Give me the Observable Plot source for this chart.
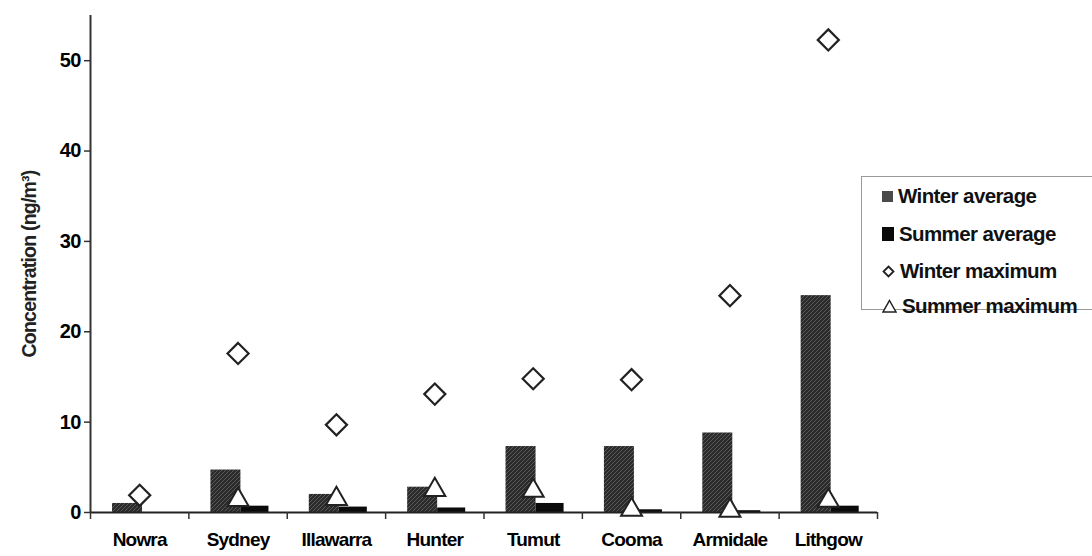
<!DOCTYPE html>
<html>
<head>
<meta charset="utf-8">
<script src="https://cdn.jsdelivr.net/npm/d3@7"></script>
<script src="https://cdn.jsdelivr.net/npm/@observablehq/plot@0.6"></script>
<style>
  body { margin: 0; background: #fff; }
  #wrap { position: relative; width: 1092px; height: 556px; font-family: "Liberation Sans", Arial, sans-serif; }
  #legend { position: absolute; left: 861px; top: 176px; width: 240px; height: 134px; border: 1.5px solid #999; border-right: none; box-sizing: border-box; background: #fff; }
  .item { position: absolute; left: 20px; font-size: 20.5px; font-weight: bold; letter-spacing: -0.6px; color: #111; line-height: 22px; display: flex; align-items: center; }
  .item svg { margin-right: 5px; }
</style>
</head>
<body>
<div id="wrap"></div>
<script>
const sites = ["Nowra", "Sydney", "Illawarra", "Hunter", "Tumut", "Cooma", "Armidale", "Lithgow"];
const winterAverage = [1.0, 4.7, 2.0, 2.8, 7.3, 7.3, 8.8, 24.0];
const summerAverage = [null, 0.7, 0.6, 0.5, 1.0, 0.3, 0.2, 0.7];
const winterMaximum = [1.9, 17.6, 9.7, 13.1, 14.8, 14.7, 24.0, 52.3];
const summerMaximum = [null, 1.4, 1.5, 2.5, 2.4, 0.3, 0.2, 1.3];
const yTicks = [0, 10, 20, 30, 40, 50];
const seriesNames = ["Winter average", "Summer average", "Winter maximum", "Summer maximum"];

const rows = sites.map((s, i) => ({
  site: s, i,
  wa: winterAverage[i], sa: summerAverage[i],
  wm: winterMaximum[i], sm: summerMaximum[i]
}));

const font = "Liberation Sans, Arial, sans-serif";

const plot = Plot.plot({
  width: 1092,
  height: 556,
  marginLeft: 90,
  marginRight: 215,
  marginTop: 15,
  marginBottom: 44,
  style: { fontFamily: font, background: "#fff", overflow: "visible" },
  x: { type: "linear", domain: [0, sites.length] },
  y: { domain: [0, 55] },
  marks: [
    Plot.rectY(rows, { x1: d => d.i + 0.224, x2: d => d.i + 0.529, y1: 0, y2: "wa", fill: "url(#hatch)" }),
    Plot.rectY(rows.filter(d => d.sa != null), { x1: d => d.i + 0.529, x2: d => d.i + 0.814, y1: 0, y2: "sa", fill: "#0a0a0a" }),
    Plot.ruleY([0], { stroke: "#222", strokeWidth: 2 }),
    Plot.ruleX([0], { stroke: "#333", strokeWidth: 2 }),
    Plot.dot(rows, { x: d => d.i + 0.5, y: "wm", symbol: "diamond2", r: 9.5, stroke: "#222", strokeWidth: 2.2, fill: "#fff" }),
    Plot.dot(rows.filter(d => d.sm != null), { x: d => d.i + 0.5, y: "sm", symbol: "triangle2", r: 10, stroke: "#222", strokeWidth: 2, fill: "#fff" }),
    Plot.axisY({ ticks: yTicks, tickSize: 6, tickPadding: 4, fontSize: 20, fontWeight: "bold", label: null, stroke: "#333", strokeWidth: 1.5 }),
    Plot.axisX({ ticks: d3.range(sites.length + 1), tickSize: 7, tickFormat: () => "", label: null, stroke: "#333", strokeWidth: 1.5 }),
    Plot.axisX({ ticks: d3.range(sites.length).map(i => i + 0.5), tickSize: 0, tickPadding: 20, tickFormat: v => sites[Math.floor(v)], fontSize: 19, fontWeight: "bold", label: null }),
    Plot.text(["Concentration (ng/m³)"], { frameAnchor: "left", dx: -61, dy: 0, rotate: -90, fontSize: 19.5, fontWeight: "bold", fill: "#222", textAnchor: "middle" })
  ]
});

// hatch pattern for winter bars
const svg = d3.select(plot);
const defs = svg.insert("defs", ":first-child");
const pat = defs.append("pattern").attr("id", "hatch").attr("patternUnits", "userSpaceOnUse").attr("width", 4).attr("height", 4);
pat.append("rect").attr("width", 4).attr("height", 4).attr("fill", "#2b2b2b");
pat.append("path").attr("d", "M-1,1 l2,-2 M0,4 l4,-4 M3,5 l2,-2").attr("stroke", "#5a5a5a").attr("stroke-width", 1);
svg.selectAll("text").style("letter-spacing", "-0.8px");

const wrap = document.getElementById("wrap");
wrap.appendChild(plot);

// legend
const legend = document.createElement("div");
legend.id = "legend";
const glyphs = [
  '<svg width="11" height="11"><rect width="11" height="11" fill="#4a4a4a"/></svg>',
  '<svg width="12" height="14"><rect width="12" height="14" fill="#0a0a0a"/></svg>',
  '<svg width="13" height="13"><path d="M6.5,1.5L11.5,6.5L6.5,11.5L1.5,6.5Z" fill="#fff" stroke="#222" stroke-width="1.8"/></svg>',
  '<svg width="15" height="14"><path d="M7.5,1.5L14,13H1Z" fill="#fff" stroke="#222" stroke-width="1.5"/></svg>'
];
const tops = [8, 46, 83, 118];
seriesNames.forEach((n, k) => {
  const it = document.createElement("div");
  it.className = "item";
  it.style.top = tops[k] + "px";
  it.innerHTML = glyphs[k] + "<span>" + n + "</span>";
  legend.appendChild(it);
});
wrap.appendChild(legend);
</script>
</body>
</html>
